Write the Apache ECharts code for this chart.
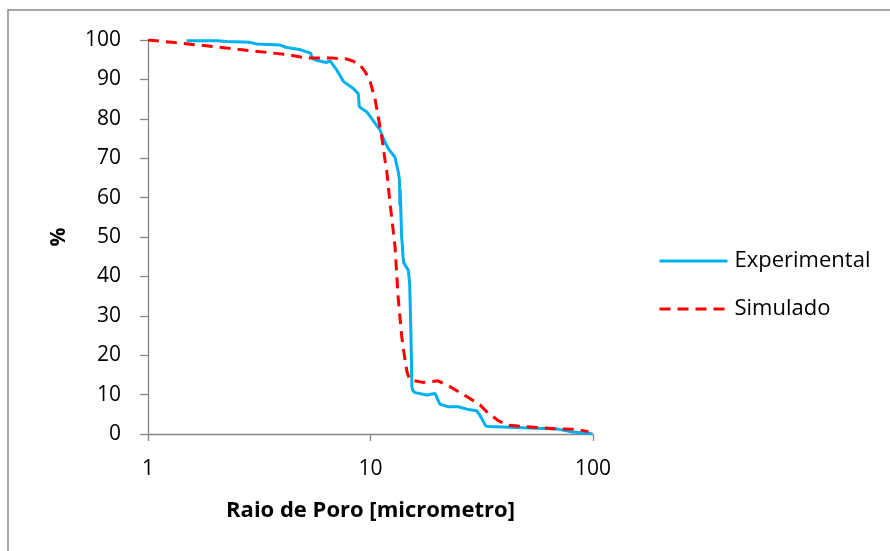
<!DOCTYPE html>
<html>
<head>
<meta charset="utf-8">
<script src="https://cdn.jsdelivr.net/npm/echarts@6/dist/echarts.min.js"></script>
<style>
  html, body { margin: 0; padding: 0; background: #ffffff; }
  #chart { width: 890px; height: 551px; }
</style>
</head>
<body>
<div id="chart"></div>
<script>
// Pore radius (micrometre) vs cumulative percentage
const expRadius = [1.49, 2.04, 2.26, 2.87, 3.08, 3.92, 4.20, 4.8, 5.17, 5.40, 5.44, 5.73, 6.36, 6.58, 7.05, 7.55, 8.37, 8.81, 8.91, 9.2, 9.61, 10.3, 11.03, 11.42, 12.0, 12.24, 12.89, 13.33, 13.5, 13.55, 13.6, 13.7, 13.8, 13.9, 14.0, 14.1, 14.3, 14.8, 15.0, 15.2, 15.35, 15.5, 15.85, 17.9, 19.5, 20.5, 22.4, 24.8, 27.1, 30.0, 31.0, 33.0, 34.4, 48.6, 68.7, 78.8, 97, 99.5];
const expPercent = [99.8, 99.8, 99.6, 99.4, 99.0, 98.7, 98.1, 97.6, 97.0, 96.6, 95.4, 94.8, 94.3, 94.7, 92.4, 89.5, 87.7, 86.4, 83.1, 82.5, 81.8, 79.5, 77.2, 75.0, 72.5, 72.0, 70.2, 66.5, 64.5, 58, 62, 56, 50, 48, 45, 43.5, 43.5, 41.5, 38, 25, 12, 11, 10.5, 9.9, 10.3, 7.6, 6.9, 6.9, 6.3, 5.9, 4.8, 2.0, 1.9, 1.6, 1.3, 0.6, 0.1, 0];

const simRadius = [1, 1.39, 2, 3, 4.35, 5.17, 6.8, 7.8, 8.37, 8.97, 9.5, 9.95, 10.5, 11.03, 11.23, 11.62, 11.82, 12.24, 12.89, 13.3, 13.8, 14.1, 14.6, 15.0, 15.57, 17.2, 20.1, 22.8, 27.06, 31.05, 33.2, 37.5, 40.9, 48.6, 68.7, 84.2, 95.4];
const simPercent = [100, 99.2, 98.3, 97.2, 96.2, 95.4, 95.4, 95.2, 94.6, 93.7, 91.8, 89.6, 84.8, 78.0, 75.5, 69.5, 67.0, 58.6, 47.5, 35, 25, 21, 15.7, 13.9, 13.6, 13.1, 13.5, 12.0, 9.5, 7.4, 5.7, 3.4, 2.3, 1.9, 1.3, 1.2, 0.6];

const seriesNames = ['Experimental', 'Simulado'];
const xAxisTitle = 'Raio de Poro [micrometro]';
const yAxisTitle = '%';

const zip = (xs, ys) => xs.map((x, i) => [x, ys[i]]);

const FONT = '"Open Sans", "Noto Sans", sans-serif';
const AXIS_GRAY = '#868686';

const chart = echarts.init(document.getElementById('chart'), null, { renderer: 'canvas' });

chart.setOption({
  backgroundColor: '#ffffff',
  animation: false,
  textStyle: { fontFamily: FONT },
  graphic: [{
    type: 'rect',
    shape: { x: 8, y: 10, width: 900, height: 600 },
    style: { fill: 'none', stroke: '#8a8a8a', lineWidth: 1.5 },
    silent: true
  }],
  grid: { left: 148, right: 297, top: 40, bottom: 117, containLabel: false },
  legend: {
    orient: 'vertical',
    left: 653,
    top: 245,
    itemWidth: 68,
    itemHeight: 14,
    itemGap: 26,
    data: seriesNames,
    // legend keys show only the line, no marker
    itemStyle: { opacity: 0 },
    lineStyle: { width: 3 },
    textStyle: { fontFamily: FONT, fontSize: 22, color: '#000000', padding: [0, 0, 0, 2] }
  },
  xAxis: {
    type: 'log',
    logBase: 10,
    min: 1,
    max: 100,
    name: xAxisTitle,
    nameLocation: 'middle',
    nameGap: 66,
    nameTextStyle: { fontFamily: FONT, fontSize: 22, fontWeight: 'bold', color: '#000000' },
    axisLine: { lineStyle: { color: AXIS_GRAY, width: 1.3 } },
    axisTick: { show: true, length: 7, lineStyle: { color: AXIS_GRAY, width: 1.3 } },
    minorTick: { show: false },
    splitLine: { show: false },
    axisLabel: { fontFamily: FONT, fontSize: 21, color: '#000000', margin: 25 }
  },
  yAxis: {
    type: 'value',
    min: 0,
    max: 100,
    interval: 10,
    name: yAxisTitle,
    nameLocation: 'middle',
    nameGap: 78,
    nameTextStyle: { fontFamily: FONT, fontSize: 21, fontWeight: 'bold', color: '#000000' },
    axisLine: { show: true, lineStyle: { color: AXIS_GRAY, width: 1.3 } },
    axisTick: { show: true, length: 8, lineStyle: { color: AXIS_GRAY, width: 1.3 } },
    splitLine: { show: false },
    axisLabel: { fontFamily: FONT, fontSize: 21, color: '#000000', margin: 27 }
  },
  series: [
    {
      name: seriesNames[0],
      type: 'line',
      data: zip(expRadius, expPercent),
      symbol: 'none',
      smooth: false,
      lineStyle: { color: '#00B0F0', width: 3 },
      itemStyle: { color: '#00B0F0', opacity: 0 },
      z: 3
    },
    {
      name: seriesNames[1],
      type: 'line',
      data: zip(simRadius, simPercent),
      symbol: 'none',
      smooth: false,
      lineStyle: { color: '#FF0000', width: 3, type: [11, 7] },
      itemStyle: { color: '#FF0000', opacity: 0 },
      z: 4
    }
  ]
});
</script>
</body>
</html>
